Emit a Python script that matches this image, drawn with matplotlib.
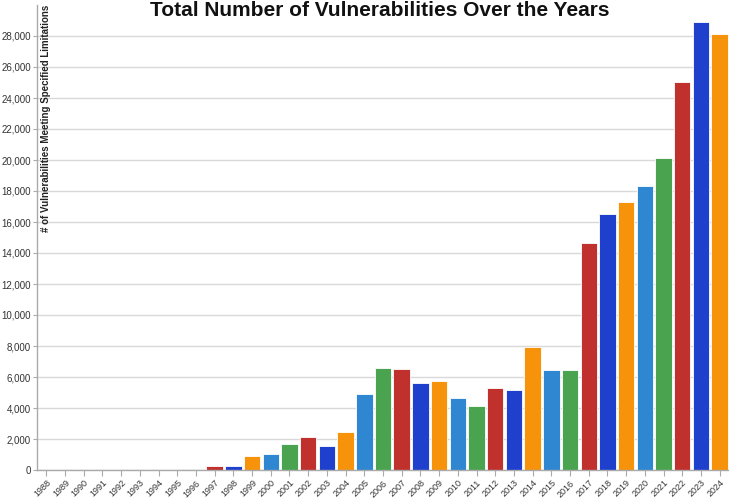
import matplotlib
matplotlib.use("Agg")
import matplotlib.pyplot as plt
from matplotlib.ticker import FuncFormatter

plt.rcParams['font.family'] = ['Liberation Sans', 'DejaVu Sans']

# Yearly counts
years = [str(y) for y in range(1988, 2025)]
counts = [2, 3, 11, 15, 13, 13, 25, 25, 75, 252, 246, 894, 1020, 1677, 2156,
          1527, 2451, 4932, 6608, 6516, 5632, 5732, 4639, 4150, 5288, 5187,
          7928, 6480, 6447, 14643, 16509, 17305, 18350, 20155, 25051, 28900,
          28100]

# colour cycle of the bars (year 2000 starts the light blue)
palette = ['#2f87d1', '#4aa44f', '#c0312e', '#1f40cc', '#f7930b']
colors = [palette[(int(y) - 2000) % 5] for y in years]

fig = plt.figure(figsize=(7.29, 4.98), dpi=100)
ax = fig.add_axes([37 / 729, 28 / 498, 692 / 729, 465 / 498])

x = list(range(len(years)))
ax.bar(x, counts, width=0.88, color=colors, edgecolor='white', linewidth=0.6, zorder=2)

ax.set_xlim(-0.5, len(years) - 0.5)
ax.set_ylim(0, 30000)
ax.set_yticks(range(0, 30000, 2000))
ax.yaxis.set_major_formatter(FuncFormatter(lambda v, p: f'{int(v):,}'))
ax.grid(axis='y', color='#d9d9d9', linewidth=1, zorder=0)

ax.set_xticks(x)
ax.set_xticklabels(years, rotation=45, ha='right', rotation_mode='anchor', fontsize=6.5, color='#333333')
ax.tick_params(axis='y', labelsize=7, colors='#333333', length=3, width=0.8, color='#aaaaaa', pad=1.5)
ax.tick_params(axis='x', length=4, width=0.8, color='#aaaaaa', pad=2)

for side in ['top', 'right']:
    ax.spines[side].set_visible(False)
for side in ['left', 'bottom']:
    ax.spines[side].set_color('#aaaaaa')
    ax.spines[side].set_linewidth(1)

fig.text(46 / 729, 1 - 5 / 498, '# of Vulnerabilities Meeting Specified Limitations',
         rotation=90, ha='center', va='top', fontsize=7, fontweight='bold', color='#222222')

fig.text(380 / 729, 1 - 1 / 498, 'Total Number of Vulnerabilities Over the Years',
         ha='center', va='top', fontsize=15, fontweight='bold', color='#111111')

fig.savefig('out.png', dpi=100)
